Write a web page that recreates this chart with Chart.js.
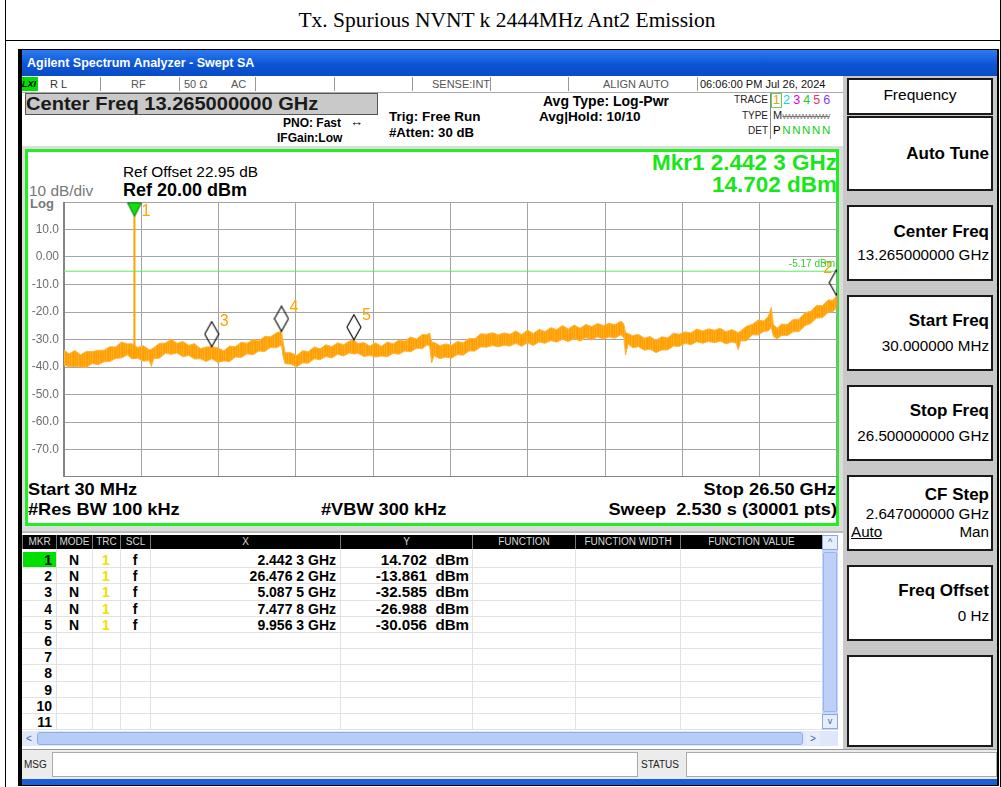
<!DOCTYPE html>
<html>
<head>
<meta charset="utf-8">
<script src="https://cdn.jsdelivr.net/npm/chart.js@4.4.1/dist/chart.umd.min.js"></script>
<style>
  body { margin: 0; background: #fff; font-family: "Liberation Sans", Arial, sans-serif; }
  #page { position: relative; width: 1001px; height: 787px; overflow: hidden; }
  .a { position: absolute; white-space: nowrap; }
  .b { font-weight: bold; }
  .r { text-align: right; }
  .c { text-align: center; }
  .wl { transform: scaleX(1.07); transform-origin: 0 0; }
  .wr { transform: scaleX(1.07); transform-origin: 100% 0; }
  .btn { position: absolute; left: 847px; width: 146px; background: #fff; border: 2px solid #1a1a1a; box-sizing: border-box; }
  .th { position: absolute; top: 535px; height: 14px; background: #000; color: #d8d8d8; font-size: 10px; line-height: 14px; text-align: center; border-left: 1px solid #777; box-sizing: border-box; }
  .cell { position: absolute; font-size: 14px; font-weight: bold; line-height: 16px; }
</style>
</head>
<body>
<div id="page">
  <!-- report frame and caption -->
  <div class="a" style="left:5px;top:-1px;width:996px;height:790px;border:1px solid #000;box-sizing:border-box;"></div>
  <div class="a" style="left:5px;top:40px;width:996px;height:1px;background:#000;"></div>
  <div class="a c" style="left:9px;width:996px;top:7px;font-family:'Liberation Serif','Times New Roman',serif;font-size:21.5px;line-height:26px;">Tx. Spurious NVNT k 2444MHz Ant2 Emission</div>

  <!-- analyzer window -->
  <div class="a" style="left:18px;top:49px;width:981px;height:737px;background:#000;"></div>
  <div class="a" style="left:22px;top:50px;width:975px;height:26px;background:linear-gradient(#2d7cf2,#0b55d6 55%,#0a4cc6);"></div>
  <div class="a b" style="left:27px;top:56px;color:#fff;font-size:12.5px;line-height:14px;">Agilent Spectrum Analyzer - Swept SA</div>
  <div class="a" style="left:22px;top:76px;width:821px;height:705px;background:#fff;"></div>
  <div class="a" style="left:843px;top:76px;width:154px;height:705px;background:#c8c8c8;"></div>

  <!-- status row -->
  <div class="a" style="left:22px;top:77px;width:821px;height:15px;border-bottom:1px solid #aaa;background:#fff;"></div>
  <div class="a b" style="left:22px;top:77px;width:16px;height:14px;background:#00e000;font-size:9px;line-height:14px;font-style:italic;">LXI</div>
  <div class="a" style="left:50px;top:78px;font-size:11px;color:#333;">R L</div>
  <div class="a" style="left:131px;top:78px;font-size:11px;color:#555;">RF</div>
  <div class="a" style="left:184px;top:78px;font-size:11px;color:#555;">50 Ω</div>
  <div class="a" style="left:231px;top:78px;font-size:11px;color:#555;">AC</div>
  <div class="a" style="left:432px;top:78px;font-size:11px;color:#555;">SENSE:INT</div>
  <div class="a" style="left:603px;top:78px;font-size:11px;color:#555;">ALIGN AUTO</div>
  <div class="a" style="left:700px;top:78px;font-size:11px;color:#111;">06:06:00 PM Jul 26, 2024</div>
  <div class="a" style="left:100px;top:77px;width:1px;height:14px;background:#999;"></div>
  <div class="a" style="left:179px;top:77px;width:1px;height:14px;background:#999;"></div>
  <div class="a" style="left:255px;top:77px;width:1px;height:14px;background:#999;"></div>
  <div class="a" style="left:334px;top:77px;width:1px;height:14px;background:#999;"></div>
  <div class="a" style="left:412px;top:77px;width:1px;height:14px;background:#999;"></div>
  <div class="a" style="left:490px;top:77px;width:1px;height:14px;background:#999;"></div>
  <div class="a" style="left:568px;top:77px;width:1px;height:14px;background:#999;"></div>
  <div class="a" style="left:697px;top:77px;width:1px;height:14px;background:#999;"></div>

  <!-- settings header -->
  <div class="a" style="left:25px;top:93px;width:353px;height:22px;background:#c9c9c9;border:1px solid #555;box-sizing:border-box;"></div>
  <div class="a b" id="centerLbl" style="left:26px;top:93px;font-size:18.5px;line-height:21px;color:#1a1a1a;transform:scaleX(1.085);transform-origin:0 0;"></div>
  <div class="a b" style="left:283px;top:116px;font-size:12px;">PNO: Fast</div>
  <div class="a" style="left:350px;top:114px;font-size:13px;">↔</div>
  <div class="a b" style="left:277px;top:131px;font-size:12px;">IFGain:Low</div>
  <div class="a b" style="left:389px;top:109px;font-size:13.5px;">Trig: Free Run</div>
  <div class="a b" style="left:389px;top:125px;font-size:13.2px;">#Atten: 30 dB</div>
  <div class="a b" style="left:543px;top:93px;font-size:14px;">Avg Type: Log-Pwr</div>
  <div class="a b" style="left:539px;top:109px;font-size:13.6px;">Avg|Hold: 10/10</div>
  <div class="a r" style="left:718px;width:50px;top:94px;font-size:10px;color:#222;">TRACE</div>
  <div class="a r" style="left:718px;width:50px;top:110px;font-size:10px;color:#222;">TYPE</div>
  <div class="a r" style="left:718px;width:50px;top:125px;font-size:10px;color:#222;">DET</div>
  <div class="a" style="left:770px;top:93px;width:1px;height:46px;background:#888;"></div>
  <div class="a" style="left:771px;top:93px;width:11px;height:15px;border:1px solid #6c6;box-sizing:border-box;"></div>
  <div class="a" style="left:773px;top:93px;font-size:12.5px;letter-spacing:3.1px;"><span style="color:#f0a000">1</span><span style="color:#00d8e8">2</span><span style="color:#e000e0">3</span><span style="color:#20d020">4</span><span style="color:#f03060">5</span><span style="color:#8040f0">6</span></div>
  <div class="a" style="left:773px;top:109px;font-size:11px;color:#222;">M<span style="font-size:8px;color:#777;letter-spacing:-0.8px;text-decoration:line-through;">WWWWWWW</span></div>
  <div class="a" style="left:773px;top:124px;font-size:11.5px;letter-spacing:1.6px;">P<span style="color:#10d010">NNNNN</span></div>

  <!-- plot panel -->
  <div class="a" style="left:22px;top:146px;width:821px;height:385px;background:#dcdcdc;"></div>
  <div class="a" style="left:25px;top:149px;width:814px;height:377px;border:3px solid #22ee22;background:#fff;box-sizing:border-box;"></div>
  <div class="a" style="left:123px;top:164px;font-size:14px;transform:scaleX(1.1);transform-origin:0 0;">Ref Offset 22.95 dB</div>
  <div class="a b" style="left:123px;top:180px;font-size:18px;">Ref 20.00 dBm</div>
  <div class="a" style="left:29px;top:183px;font-size:14px;color:#777;transform:scaleX(1.1);transform-origin:0 0;">10 dB/div</div>
  <div class="a b" style="left:30px;top:196px;font-size:13px;color:#777;">Log</div>
  <div class="a b r" id="mkrFreq" style="left:500px;width:337px;top:151px;font-size:22.5px;line-height:23px;color:#19e619;"></div>
  <div class="a b r" id="mkrAmp" style="left:500px;width:337px;top:173px;font-size:22.5px;line-height:23px;color:#19e619;"></div>
  <div class="a b wl" style="left:28px;top:480px;font-size:17px;">Start 30 MHz</div>
  <div class="a b wl" style="left:28px;top:500px;font-size:17px;">#Res BW 100 kHz</div>
  <div class="a b wl" style="left:321px;top:500px;font-size:17px;">#VBW 300 kHz</div>
  <div class="a b r wr" style="left:500px;width:336px;top:480px;font-size:17px;">Stop 26.50 GHz</div>
  <div class="a b r wr" style="left:500px;width:337px;top:500px;font-size:17px;">Sweep&nbsp;&nbsp;2.530 s (30001 pts)</div>
  <canvas id="spec" class="a" width="812" height="275" style="left:26px;top:202px;"></canvas>

  <!-- marker table -->
  <div class="a" style="left:22px;top:531px;width:821px;height:219px;background:#fff;border-top:2px solid #bbb;box-sizing:border-box;"></div>
  <div id="table"></div>
  <div class="a" style="left:822px;top:535px;width:16px;height:195px;background:#c7d8fa;"></div>
  <div class="a c" style="left:822px;top:535px;width:16px;height:15px;background:#e6eefc;border:1px solid #8aa8e0;box-sizing:border-box;font-size:9px;line-height:13px;color:#4060a0;">^</div>
  <div class="a" style="left:823px;top:552px;width:14px;height:160px;background:#bcd0f8;border:1px solid #9ab4ea;box-sizing:border-box;border-radius:2px;"></div>
  <div class="a c" style="left:822px;top:714px;width:16px;height:15px;background:#e6eefc;border:1px solid #8aa8e0;box-sizing:border-box;font-size:9px;line-height:13px;color:#4060a0;">v</div>
  <div class="a" style="left:22px;top:731px;width:816px;height:15px;background:#dfe8fb;"></div>
  <div class="a" style="left:37px;top:732px;width:766px;height:13px;background:#b8cdf6;border:1px solid #90abe6;box-sizing:border-box;border-radius:3px;"></div>
  <div class="a c" style="left:22px;top:732px;width:14px;height:13px;font-size:10px;line-height:13px;color:#4060a0;">&lt;</div>
  <div class="a c" style="left:806px;top:732px;width:14px;height:13px;font-size:10px;line-height:13px;color:#4060a0;background:#e6eefc;">&gt;</div>

  <!-- message bar -->
  <div class="a" style="left:22px;top:749px;width:975px;height:30px;background:#ececec;border-top:1px solid #999;box-sizing:border-box;"></div>
  <div class="a" style="left:52px;top:752px;width:586px;height:25px;background:#fff;border:1px solid #aaa;box-sizing:border-box;"></div>
  <div class="a" style="left:686px;top:752px;width:311px;height:25px;background:#fff;border:1px solid #aaa;box-sizing:border-box;"></div>
  <div class="a" style="left:24px;top:759px;font-size:10px;color:#222;">MSG</div>
  <div class="a" style="left:641px;top:759px;font-size:10px;color:#222;">STATUS</div>
  <div class="a" style="left:22px;top:779px;width:975px;height:6px;background:#1a5fd8;"></div>

  <!-- softkey panel -->
  <div class="btn" style="top:78px;height:37px;"></div>
  <div class="a c" style="left:847px;width:146px;top:86px;font-size:15.5px;">Frequency</div>
  <div class="btn" style="top:116px;height:75px;"></div>
  <div class="a b r" style="left:847px;width:142px;top:144px;font-size:17px;">Auto Tune</div>
  <div class="btn" style="top:205px;height:76px;"></div>
  <div class="a b r" style="left:847px;width:142px;top:222px;font-size:17px;">Center Freq</div>
  <div class="a r" style="left:847px;width:142px;top:246px;font-size:15.2px;">13.265000000 GHz</div>
  <div class="btn" style="top:295px;height:76px;"></div>
  <div class="a b r" style="left:847px;width:142px;top:311px;font-size:17px;">Start Freq</div>
  <div class="a r" style="left:847px;width:142px;top:337px;font-size:15.2px;">30.000000 MHz</div>
  <div class="btn" style="top:385px;height:76px;"></div>
  <div class="a b r" style="left:847px;width:142px;top:401px;font-size:17px;">Stop Freq</div>
  <div class="a r" style="left:847px;width:142px;top:427px;font-size:15.2px;">26.500000000 GHz</div>
  <div class="btn" style="top:475px;height:76px;"></div>
  <div class="a b r" style="left:847px;width:142px;top:485px;font-size:17px;">CF Step</div>
  <div class="a r" style="left:847px;width:142px;top:505px;font-size:15.2px;">2.647000000 GHz</div>
  <div class="a" style="left:851px;top:523px;font-size:15.2px;text-decoration:underline;">Auto</div>
  <div class="a r" style="left:847px;width:142px;top:523px;font-size:15.2px;">Man</div>
  <div class="btn" style="top:565px;height:76px;"></div>
  <div class="a b r" style="left:847px;width:142px;top:581px;font-size:17px;">Freq Offset</div>
  <div class="a r" style="left:847px;width:142px;top:607px;font-size:15.2px;">0 Hz</div>
  <div class="btn" style="top:655px;height:92px;"></div>
</div>

<script>
// sweep settings
var startGHz = 0.03;
var stopGHz = 26.5;
var refLevel = 20;
var dbPerDiv = 10;
var threshold = -5.17;

// y tick labels
var yTickValues = [10, 0, -10, -20, -30, -40, -50, -60, -70];
var yTickLabels = ['10.0', '0.00', '-10.0', '-20.0', '-30.0', '-40.0', '-50.0', '-60.0', '-70.0'];

// peak markers
var markerNo = [1, 2, 3, 4, 5];
var markerGHz = [2.4423, 26.4762, 5.0875, 7.4778, 9.9563];
var markerDbm = [14.702, -13.861, -32.585, -26.988, -30.056];

// trace envelope (GHz, top / bottom of the noise band in dBm)
var traceGHz = [0.03, 0.2, 0.4, 0.6, 0.8, 1.0, 1.2, 1.4, 1.6, 1.8, 2.0, 2.2, 2.35, 2.55, 2.75, 2.95, 3.02, 3.1, 3.3, 3.5,
  3.7, 3.9, 4.1, 4.3, 4.5, 4.7, 4.9, 5.09, 5.3, 5.5, 5.7, 5.9, 6.1, 6.3, 6.5, 6.7, 6.9, 7.1, 7.3, 7.48,
  7.52, 7.6, 7.8, 8.0, 8.2, 8.4, 8.6, 8.8, 9.0, 9.2, 9.4, 9.6, 9.8, 9.96, 10.1, 10.3, 10.5, 10.7, 10.9, 11.1,
  11.3, 11.5, 11.7, 11.9, 12.1, 12.3, 12.45, 12.55, 12.62, 12.7, 12.9, 13.1, 13.3, 13.5, 13.7, 13.9, 14.1, 14.3, 14.5, 14.7,
  14.9, 15.1, 15.3, 15.5, 15.7, 15.9, 16.1, 16.3, 16.5, 16.7, 16.9, 17.1, 17.3, 17.5, 17.7, 17.9, 18.1, 18.3, 18.5, 18.7,
  18.9, 19.1, 19.2, 19.26, 19.35, 19.5, 19.7, 19.9, 20.1, 20.3, 20.5, 20.7, 20.9, 21.1, 21.3, 21.5, 21.7, 21.9, 22.1, 22.3,
  22.5, 22.7, 22.9, 23.05, 23.12, 23.2, 23.4, 23.6, 23.8, 24.0, 24.15, 24.25, 24.32, 24.45, 24.6, 24.8, 25.0, 25.2, 25.4, 25.6,
  25.8, 26.0, 26.2, 26.35, 26.5];
var traceTop = [-33.8, -35.2, -34.0, -35.5, -34.3, -34.4, -33.9, -33.9, -32.6, -32.7, -30.9, -31.6, -31.5, -32.9, -32.3, -33.7, -33.5, -33.0, -31.4, -31.3,
  -29.9, -31.4, -30.7, -32.1, -31.5, -33.3, -32.7, -32.6, -33.0, -34.1, -32.4, -32.6, -31.0, -31.4, -30.0, -30.5, -28.9, -29.0, -27.6, -27.0,
  -30.0, -34.8, -34.8, -35.8, -34.1, -34.4, -32.7, -33.4, -31.9, -32.6, -31.2, -31.9, -30.6, -30.1, -31.5, -31.1, -32.4, -31.2, -32.5, -30.9,
  -31.6, -30.2, -30.6, -29.1, -29.8, -28.2, -28.3, -27.6, -31.0, -31.0, -32.2, -31.6, -32.1, -30.7, -31.2, -29.6, -29.7, -27.9, -28.1, -27.5,
  -28.3, -27.6, -28.1, -26.9, -28.2, -26.6, -27.8, -26.3, -27.1, -25.7, -26.4, -24.9, -26.2, -24.7, -25.9, -24.5, -25.3, -24.2, -24.9, -24.1,
  -24.6, -23.3, -24.4, -27.5, -27.8, -28.6, -28.1, -29.5, -28.9, -30.3, -29.0, -29.4, -27.7, -28.1, -27.2, -27.6, -26.2, -26.9, -26.1, -26.6,
  -25.9, -27.2, -26.4, -27.1, -27.5, -26.9, -25.2, -24.5, -22.9, -23.3, -21.5, -18.3, -24.5, -25.9, -24.4, -24.5, -22.7, -22.6, -20.3, -19.7,
  -17.6, -17.7, -15.6, -15.7, -14.0];
var traceBottom = [-39.3, -39.9, -39.8, -40.0, -40.1, -38.7, -39.2, -38.1, -38.0, -36.9, -36.7, -35.6, -37.0, -36.8, -37.9, -37.6, -39.8, -37.0, -36.8, -35.0,
  -35.4, -34.9, -36.3, -35.8, -37.1, -37.0, -38.0, -37.0, -38.4, -37.8, -38.0, -36.4, -36.5, -35.2, -35.6, -34.2, -34.4, -32.9, -33.0, -32.0,
  -35.5, -38.8, -39.0, -40.0, -38.5, -38.6, -37.0, -37.4, -36.2, -36.7, -35.4, -36.0, -34.9, -35.3, -35.0, -36.2, -35.8, -36.4, -36.0, -36.3,
  -35.0, -35.4, -34.2, -34.5, -33.2, -33.4, -32.0, -32.3, -38.5, -35.8, -37.0, -36.4, -36.8, -35.5, -35.7, -34.2, -34.2, -32.7, -32.8, -32.2,
  -32.7, -32.1, -32.4, -31.4, -32.5, -31.2, -32.2, -30.9, -31.4, -30.4, -31.0, -29.9, -30.8, -29.6, -30.6, -29.4, -30.1, -29.1, -29.8, -29.1,
  -29.5, -28.3, -29.3, -35.6, -31.6, -33.0, -32.6, -33.9, -33.5, -34.8, -33.8, -33.8, -32.4, -32.5, -31.4, -31.9, -30.8, -31.4, -30.7, -31.2,
  -30.6, -31.6, -30.9, -31.4, -33.8, -30.5, -30.5, -28.3, -28.4, -27.0, -26.9, -25.5, -28.8, -29.8, -28.5, -28.6, -27.2, -27.1, -25.0, -24.2,
  -22.2, -22.1, -20.1, -20.0, -18.3];

var traceColor = '#ffa200';
var traceEdge = '#ffb43c';
var fontFam = '"Liberation Sans", Arial, sans-serif';

function fmtGHz(v) {
  var s = v.toFixed(4);
  return s.slice(0, s.length - 1) + ' ' + s.slice(-1) + ' GHz';
}
function fmtDbm(v) { return v.toFixed(3) + '\u00a0\u00a0dBm'; }

document.getElementById('centerLbl').textContent = 'Center Freq 13.265000000 GHz';
document.getElementById('mkrFreq').textContent = 'Mkr' + markerNo[0] + ' ' + fmtGHz(markerGHz[0]);
document.getElementById('mkrAmp').textContent = markerDbm[0].toFixed(3) + ' dBm';

// marker table
(function() {
  var cols = [[22, 56, 'MKR'], [56, 92, 'MODE'], [92, 120, 'TRC'], [120, 150, 'SCL'], [150, 340, 'X'], [340, 472, 'Y'],
    [472, 575, 'FUNCTION'], [575, 680, 'FUNCTION WIDTH'], [680, 822, 'FUNCTION VALUE']];
  var html = '';
  cols.forEach(function(c) {
    html += '<div class="th" style="left:' + c[0] + 'px;width:' + (c[1] - c[0]) + 'px;">' + c[2] + '</div>';
  });
  var rowH = 16.2, top0 = 552;
  for (var i = 0; i < 11; i++) {
    var y = top0 + i * rowH;
    html += '<div class="a" style="left:22px;top:' + (y + rowH - 1).toFixed(1) + 'px;width:800px;height:1px;background:#e2e2e2;"></div>';
    if (i === 0) html += '<div class="a" style="left:23px;top:' + y + 'px;width:33px;height:15px;background:#00e000;"></div>';
    html += '<div class="cell r" style="left:22px;width:30px;top:' + y + 'px;">' + (i + 1) + '</div>';
    if (i < markerNo.length) {
      html += '<div class="cell c" style="left:56px;width:36px;top:' + y + 'px;">N</div>';
      html += '<div class="cell c" style="left:92px;width:28px;top:' + y + 'px;color:#f0e000;">1</div>';
      html += '<div class="cell c" style="left:120px;width:30px;top:' + y + 'px;">f</div>';
      html += '<div class="cell r" style="left:150px;width:186px;top:' + y + 'px;">' + fmtGHz(markerGHz[i]) + '</div>';
      html += '<div class="cell r" style="left:340px;width:129px;top:' + y + 'px;transform:scaleX(1.08);transform-origin:100% 0;">' + fmtDbm(markerDbm[i]) + '</div>';
    }
  }
  [56, 92, 120, 150, 340, 472, 575, 680].forEach(function(x) {
    html += '<div class="a" style="left:' + x + 'px;top:549px;width:1px;height:180px;background:#e2e2e2;"></div>';
  });
  document.getElementById('table').innerHTML = html;
})();

// marker glyphs: tip sits on the canvas centre so it lands on the data value
function diamondGlyph() {
  var c = document.createElement('canvas');
  c.width = 16; c.height = 52;
  var g = c.getContext('2d');
  g.strokeStyle = '#000'; g.lineWidth = 1.1;
  g.beginPath();
  g.moveTo(8, 1); g.lineTo(15, 13.5); g.lineTo(8, 26); g.lineTo(1, 13.5); g.closePath();
  g.stroke();
  return c;
}
function triangleGlyph() {
  var c = document.createElement('canvas');
  c.width = 16; c.height = 30;
  var g = c.getContext('2d');
  g.fillStyle = '#10e010'; g.strokeStyle = '#0a6a0a'; g.lineWidth = 1;
  g.beginPath();
  g.moveTo(1, 1); g.lineTo(15, 1); g.lineTo(8, 15); g.closePath();
  g.fill(); g.stroke();
  return c;
}
// streaky fill for the noise band
function bandPattern(ctx) {
  var c = document.createElement('canvas');
  c.width = 7; c.height = 4;
  var g = c.getContext('2d');
  var shades = ['#ffa000', '#ffab1c', '#ff9e00', '#ffb02a', '#ffa30a', '#ff9c00', '#ffa812'];
  shades.forEach(function(s, i) { g.fillStyle = s; g.fillRect(i, 0, 1, 4); });
  return ctx.createPattern(c, 'repeat');
}
var diamond = diamondGlyph();
var triangle = triangleGlyph();

var lowerPts = traceGHz.map(function(f, i) { return { x: f, y: traceBottom[i] }; });
var upperPts = traceGHz.map(function(f, i) { return { x: f, y: traceTop[i] }; });

// base of the carrier spike: band floor next to marker 1
var nearIdx = 0;
traceGHz.forEach(function(f, i) { if (Math.abs(f - markerGHz[0]) < Math.abs(traceGHz[nearIdx] - markerGHz[0])) nearIdx = i; });

var xDivs = [];
for (var k = 0; k <= 10; k++) xDivs.push(startGHz + k * (stopGHz - startGHz) / 10);

var markerText = {
  id: 'markerText',
  afterDatasetsDraw: function(chart) {
    var ctx = chart.ctx, xs = chart.scales.x, ys = chart.scales.y, area = chart.chartArea;
    ctx.save();
    ctx.font = '16px ' + fontFam;
    ctx.fillStyle = traceColor;
    ctx.textBaseline = 'middle';
    var off = { 1: [7, -5], 2: [-13, -27], 3: [8, -25], 4: [8, -24], 5: [8, -24] };
    markerNo.forEach(function(n, i) {
      var px = xs.getPixelForValue(markerGHz[i]);
      var py = ys.getPixelForValue(markerDbm[i]);
      ctx.fillText(String(n), px + off[n][0], py + off[n][1]);
    });
    // display line readout
    ctx.font = '10px ' + fontFam;
    ctx.fillStyle = '#30d030';
    ctx.textAlign = 'right';
    ctx.fillText(threshold.toFixed(2) + ' dBm', area.right - 2, ys.getPixelForValue(threshold) - 7);
    ctx.restore();
  }
};

var ctx = document.getElementById('spec').getContext('2d');
new Chart(ctx, {
  type: 'line',
  data: {
    datasets: [
      { data: lowerPts, borderColor: traceEdge, borderWidth: 1, pointRadius: 0, fill: false, order: 3 },
      { data: upperPts, borderColor: traceEdge, borderWidth: 1, pointRadius: 0, fill: '-1', backgroundColor: bandPattern(ctx), order: 3 },
      { data: [{ x: markerGHz[0], y: traceBottom[nearIdx] }, { x: markerGHz[0], y: markerDbm[0] }],
        borderColor: traceColor, borderWidth: 2, pointRadius: 0, fill: false, order: 2 },
      { data: [{ x: startGHz, y: threshold }, { x: stopGHz, y: threshold }],
        borderColor: '#5fe85f', borderWidth: 1, pointRadius: 0, fill: false, order: 1 },
      { type: 'scatter', data: markerGHz.map(function(f, i) { return { x: f, y: markerDbm[i] }; }),
        pointStyle: markerNo.map(function(n) { return n === 1 ? triangle : diamond; }),
        pointRadius: 8, showLine: false, clip: 0, order: 0 }
    ]
  },
  options: {
    responsive: false,
    animation: false,
    layout: { autoPadding: false, padding: { right: 1, top: 0, bottom: 0, left: 0 } },
    plugins: { legend: { display: false }, tooltip: { enabled: false } },
    scales: {
      x: {
        type: 'linear', min: startGHz, max: stopGHz,
        afterBuildTicks: function(s) { s.ticks = xDivs.map(function(v) { return { value: v }; }); },
        afterFit: function(s) { s.height = 0; s.paddingLeft = 0; s.paddingRight = 0; },
        ticks: { display: false },
        grid: { color: '#a4a4a4', lineWidth: 1, drawTicks: false },
        border: { color: '#858585', width: 2 }
      },
      y: {
        min: refLevel - 10 * dbPerDiv, max: refLevel,
        afterFit: function(s) { s.width = 38; s.paddingTop = 0; s.paddingBottom = 0; },
        ticks: {
          stepSize: dbPerDiv, padding: 5, color: '#6e6e6e', font: { family: fontFam, size: 12 },
          callback: function(v) { var i = yTickValues.indexOf(v); return i >= 0 ? yTickLabels[i] : ''; }
        },
        grid: { color: '#a4a4a4', lineWidth: 1, drawTicks: false },
        border: { color: '#858585', width: 2 }
      }
    }
  },
  plugins: [markerText]
});
</script>
</body>
</html>
